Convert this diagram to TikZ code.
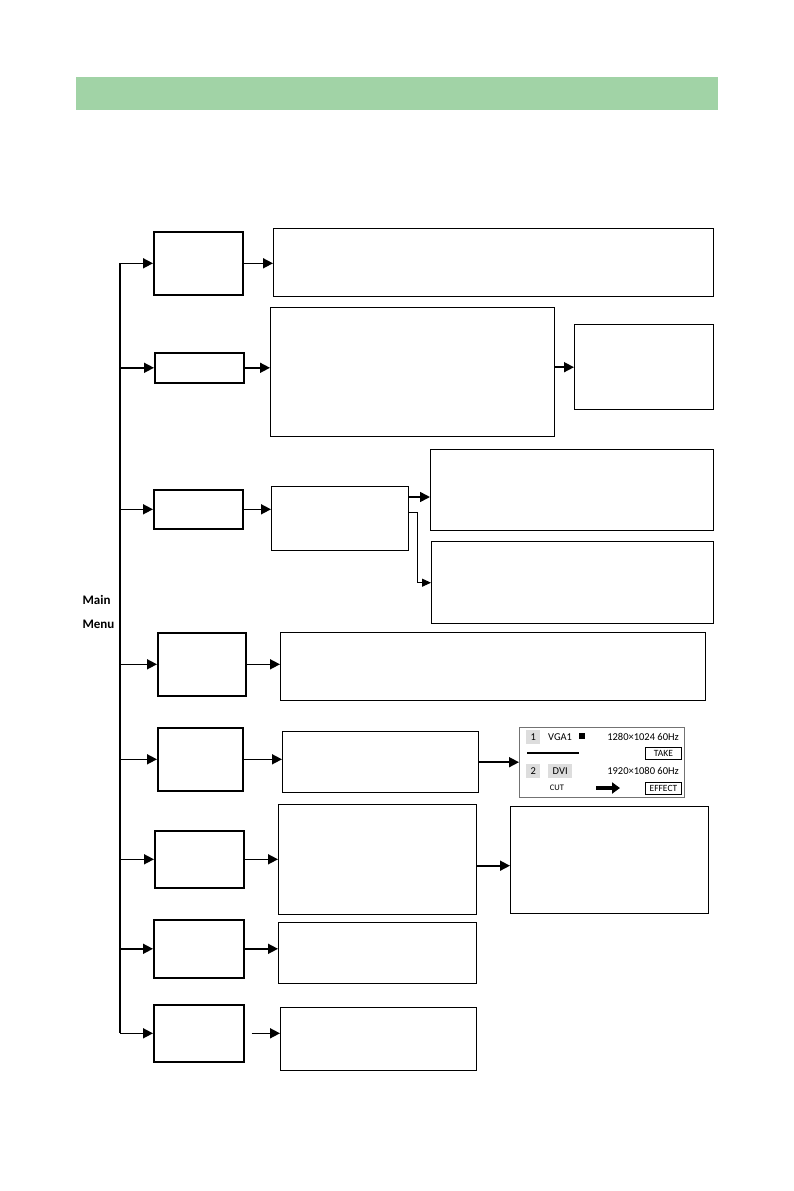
\documentclass[tikz,border=0pt]{standalone}
\usepackage{fontspec}
\setmainfont{Carlito}
\usetikzlibrary{arrows.meta}
\definecolor{headgreen}{RGB}{161,211,166}
\definecolor{keygray}{RGB}{221,221,221}
\tikzstyle{menubox} = [
    rectangle,
    inner sep=0pt,
    anchor=north west,
    line width=1.6pt,
    draw=black
]
\tikzstyle{infobox} = [
    rectangle,
    inner sep=0pt,
    anchor=north west,
    line width=1.4pt,
    draw=black
]
\tikzstyle{keybox} = [
    rectangle,
    inner sep=0pt,
    anchor=north west,
    fill=keygray,
    font=\fontsize{10.5}{12}\selectfont
]
\tikzstyle{tagbox} = [
    rectangle,
    inner sep=0pt,
    anchor=north west,
    line width=0.9pt,
    draw=black,
    font=\fontsize{9.5}{11}\selectfont
]
\tikzstyle{arrow} = [line width=1.6pt,-{Triangle[length=10pt,width=10pt]}]
\tikzstyle{thinarrow} = [line width=1pt,-{Triangle[length=9pt,width=8pt]}]

\begin{document}
\begin{tikzpicture}[x=1pt, y=-1pt]
\useasboundingbox (0,0) rectangle (794,1191);

% header bar
\fill [headgreen] (76,77) rectangle (718,110);

\node (mainmenu) [anchor=west, align=left, font=\bfseries\fontsize{13}{24}\selectfont]
at (79,612) {Main\\Menu};

% first level
\node (opt1) [menubox, minimum width=89pt, minimum height=63pt] at (153,231) {};
\node (opt2) [menubox, minimum width=89pt, minimum height=30pt] at (154,352) {};
\node (opt3) [menubox, minimum width=89pt, minimum height=39pt] at (153,489) {};
\node (opt4) [menubox, minimum width=88pt, minimum height=63pt] at (157,632) {};
\node (opt5) [menubox, minimum width=85pt, minimum height=63pt] at (157,727) {};
\node (opt6) [menubox, minimum width=89pt, minimum height=57pt] at (154,830) {};
\node (opt7) [menubox, minimum width=90pt, minimum height=58pt] at (153,919) {};
\node (opt8) [menubox, minimum width=90pt, minimum height=57pt] at (153,1004) {};

% second level
\node (info1) [infobox, minimum width=440pt, minimum height=68pt] at (273,228) {};
\node (info2) [infobox, minimum width=284pt, minimum height=129pt] at (270,307) {};
\node (info2b) [infobox, minimum width=139pt, minimum height=85pt] at (574,324) {};
\node (info3) [infobox, minimum width=137pt, minimum height=64pt] at (271,486) {};
\node (info3a) [infobox, minimum width=283pt, minimum height=81pt] at (430,449) {};
\node (info3b) [infobox, minimum width=282pt, minimum height=82pt] at (431,541) {};
\node (info4) [infobox, minimum width=425pt, minimum height=68pt] at (280,632) {};
\node (info5) [infobox, minimum width=196pt, minimum height=61pt] at (282,731) {};
\node (info6) [infobox, minimum width=198pt, minimum height=110pt] at (278,804) {};
\node (info6b) [infobox, minimum width=198pt, minimum height=107pt] at (510,806) {};
\node (info7) [infobox, minimum width=198pt, minimum height=61pt] at (278,922) {};
\node (info8) [infobox, minimum width=196pt, minimum height=63pt] at (280,1007) {};

% screen
\node (screen) [rectangle, inner sep=0pt, anchor=north west, draw=black!55, line width=0.8pt,
minimum width=165pt, minimum height=70pt] at (519,727) {};
\node (key1) [keybox, minimum width=14pt, minimum height=14pt] at (526,730) {1};
\node (key2) [keybox, minimum width=14pt, minimum height=14pt] at (526,764) {2};
\node (dvi) [keybox, minimum width=24pt, minimum height=14pt] at (548,764) {DVI};
\node (vga) [anchor=west, inner sep=0pt, font=\fontsize{10.5}{12}\selectfont] at (548,737) {VGA1};
\fill (579,733) rectangle (585,739);
\node (res1) [anchor=east, inner sep=0pt, font=\fontsize{10.5}{12}\selectfont] at (679,737) {1280×1024 60Hz};
\node (res2) [anchor=east, inner sep=0pt, font=\fontsize{10.5}{12}\selectfont] at (679,771) {1920×1080 60Hz};
\draw [line width=1.4pt] (527,753) -- (579,753);
\node (take) [tagbox, minimum width=36pt, minimum height=12pt] at (645,747) {TAKE};
\node (effect) [tagbox, minimum width=36pt, minimum height=12pt] at (645,782) {EFFECT};
\node (cut) [inner sep=0pt, font=\fontsize{8.5}{10}\selectfont] at (557,788) {CUT};
\draw [line width=4pt, -{Triangle[length=8pt,width=11pt]}] (596,788) -- (620,788);

% main menu trunk
\coordinate (trunk) at (120,0);
\draw [line width=1.5pt] (opt1 -| trunk) -- (opt8 -| trunk);
\foreach \n in {1,...,8}
    \draw [arrow] (opt\n -| trunk) -- (opt\n);

\draw [arrow] (opt1) -- (opt1 -| info1.west);
\draw [arrow] (opt2) -- (opt2 -| info2.west);
\draw [arrow] (info2b -| info2.east) -- (info2b);
\draw [arrow] (opt3) -- (opt3 -| info3.west);
\coordinate (fork3) at ([yshift=-11pt]info3.north east);
\draw [arrow] (fork3) -- (fork3 -| info3a.west);
\draw [thinarrow] ([yshift=-26pt]info3.north east) -- ++(8,0) |- (info3b);
\draw [arrow] (opt4) -- (opt4 -| info4.west);
\draw [arrow] (opt5) -- (opt5 -| info5.west);
\draw [arrow] (info5) -- (info5 -| screen.west);
\draw [arrow] (opt6) -- (opt6 -| info6.west);
\draw [arrow] ([yshift=-6pt]info6.east) -- ([yshift=-6pt]info6.east -| info6b.west);
\draw [arrow] (opt7) -- (opt7 -| info7.west);
\draw [arrow, shorten <=7pt] (opt8) -- (opt8 -| info8.west);

\end{tikzpicture}
\end{document}
